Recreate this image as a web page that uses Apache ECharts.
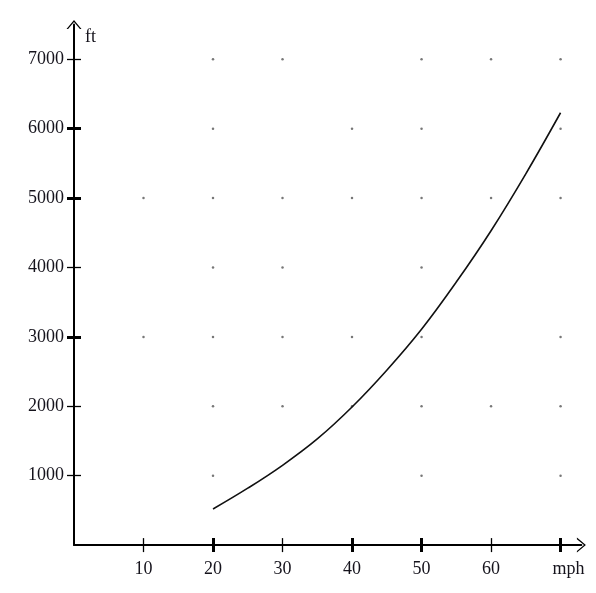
<!DOCTYPE html>
<html>
<head>
<meta charset="utf-8">
<script src="https://cdn.jsdelivr.net/npm/echarts@6/dist/echarts.min.js"></script>
<style>
	html, body { margin: 0; padding: 0; background: #fff; }
	#chart { width: 596px; height: 593px; }
</style>
</head>
<body>
<div id="chart"></div>
<script>
// values, every 5 mph
var speeds = [20, 25, 30, 35, 40, 45, 50, 55, 60, 65, 70];
var distances = [520, 820, 1150, 1530, 1990, 2520, 3110, 3790, 4530, 5350, 6230];

var xTickLabels = [10, 20, 30, 40, 50, 60, 70];
var yTickLabels = [1000, 2000, 3000, 4000, 5000, 6000, 7000];
var xThickTicks = [20, 40, 50, 70];
var xThinTicks = [10, 30, 60];
var yThickTicks = [3000, 5000, 6000];
var yThinTicks = [1000, 2000, 4000, 7000];

// dotted grid, some dots are missing in the original
var dotRows = [7000, 6000, 5000, 4000, 3000, 2000, 1000];
var dotCols = [
	[20, 30, 50, 60, 70],
	[20, 40, 50, 70],
	[10, 20, 30, 40, 50, 60, 70],
	[20, 30, 50],
	[10, 20, 30, 40, 50, 70],
	[20, 30, 40, 50, 60, 70],
	[20, 50, 70]
];

(function() {
	var myChart = echarts.init(document.getElementById("chart"));

	var font = "'Liberation Serif', 'Times New Roman', serif";
	var ink = '#15131c';
	var arrow = 'path://M0,9 L7.5,0 L15,9 L13.4,9 L7.5,1.9 L1.6,9 Z';

	var curve = speeds.map(function(s, i) {
		return [s, distances[i]];
	});
	var dots = [];
	dotRows.forEach(function(y, i) {
		dotCols[i].forEach(function(x) {
			dots.push([x, y]);
		});
	});

	// extra axes only carry tick marks (inside / outside, thin / thick)
	function tickAxis(base, ticks, inside, width) {
		return Object.assign({}, base, {
			axisLine: { show: false },
			axisLabel: { show: false },
			splitLine: { show: false },
			axisTick: {
				show: true,
				inside: inside,
				length: 7,
				customValues: ticks,
				lineStyle: { color: '#000', width: width }
			}
		});
	}

	var xBase = { type: 'value', min: 0, max: 73, position: 'bottom' };
	var yBase = { type: 'value', min: 0, max: 7500, position: 'left' };

	var xMain = Object.assign({}, xBase, {
		axisLine: {
			show: true,
			onZero: false,
			symbol: ['none', arrow],
			symbolSize: [15, 9],
			lineStyle: { color: '#000', width: 2 }
		},
		axisTick: {
			show: true,
			length: 7,
			customValues: xThinTicks,
			lineStyle: { color: '#000', width: 1.3 }
		},
		axisLabel: {
			customValues: xTickLabels,
			margin: 15,
			fontFamily: font,
			fontSize: 18,
			color: ink,
			formatter: function(v) {
				return v === 70 ? '{u|mph}' : String(v);
			},
			rich: {
				u: { fontFamily: font, fontSize: 18, color: ink, padding: [0, 0, 0, 16] }
			}
		},
		splitLine: { show: false }
	});

	var yMain = Object.assign({}, yBase, {
		name: 'ft',
		nameLocation: 'end',
		nameGap: -13,
		nameTextStyle: {
			fontFamily: font,
			fontSize: 18,
			color: ink,
			align: 'left',
			verticalAlign: 'middle',
			padding: [0, 0, 0, 11]
		},
		axisLine: {
			show: true,
			onZero: false,
			symbol: ['none', arrow],
			symbolSize: [15, 9],
			lineStyle: { color: '#000', width: 2 }
		},
		axisTick: {
			show: true,
			length: 7,
			customValues: yThinTicks,
			lineStyle: { color: '#000', width: 1.3 }
		},
		axisLabel: {
			customValues: yTickLabels,
			margin: 10,
			fontFamily: font,
			fontSize: 18,
			color: ink,
			formatter: function(v) {
				return String(v);
			}
		},
		splitLine: { show: false }
	});

	option = {
		animation: false,
		grid: {
			left: 74,
			right: 14.6,
			top: 24.6,
			bottom: 47.9,
			containLabel: false
		},
		xAxis: [
			xMain,
			tickAxis(xBase, xThinTicks, true, 1.3),
			tickAxis(xBase, xThickTicks, false, 3),
			tickAxis(xBase, xThickTicks, true, 3)
		],
		yAxis: [
			yMain,
			tickAxis(yBase, yThinTicks, true, 1.3),
			tickAxis(yBase, yThickTicks, false, 3),
			tickAxis(yBase, yThickTicks, true, 3)
		],
		series: [{
				type: 'scatter',
				data: dots,
				symbolSize: 2.5,
				itemStyle: { color: '#555' },
				silent: true,
				z: 1
			},
			{
				type: 'line',
				data: curve,
				smooth: 0.4,
				showSymbol: false,
				lineStyle: { color: '#111', width: 1.6 },
				silent: true,
				z: 3
			}
		]
	};

	myChart.setOption(option);
})();
</script>
</body>
</html>
